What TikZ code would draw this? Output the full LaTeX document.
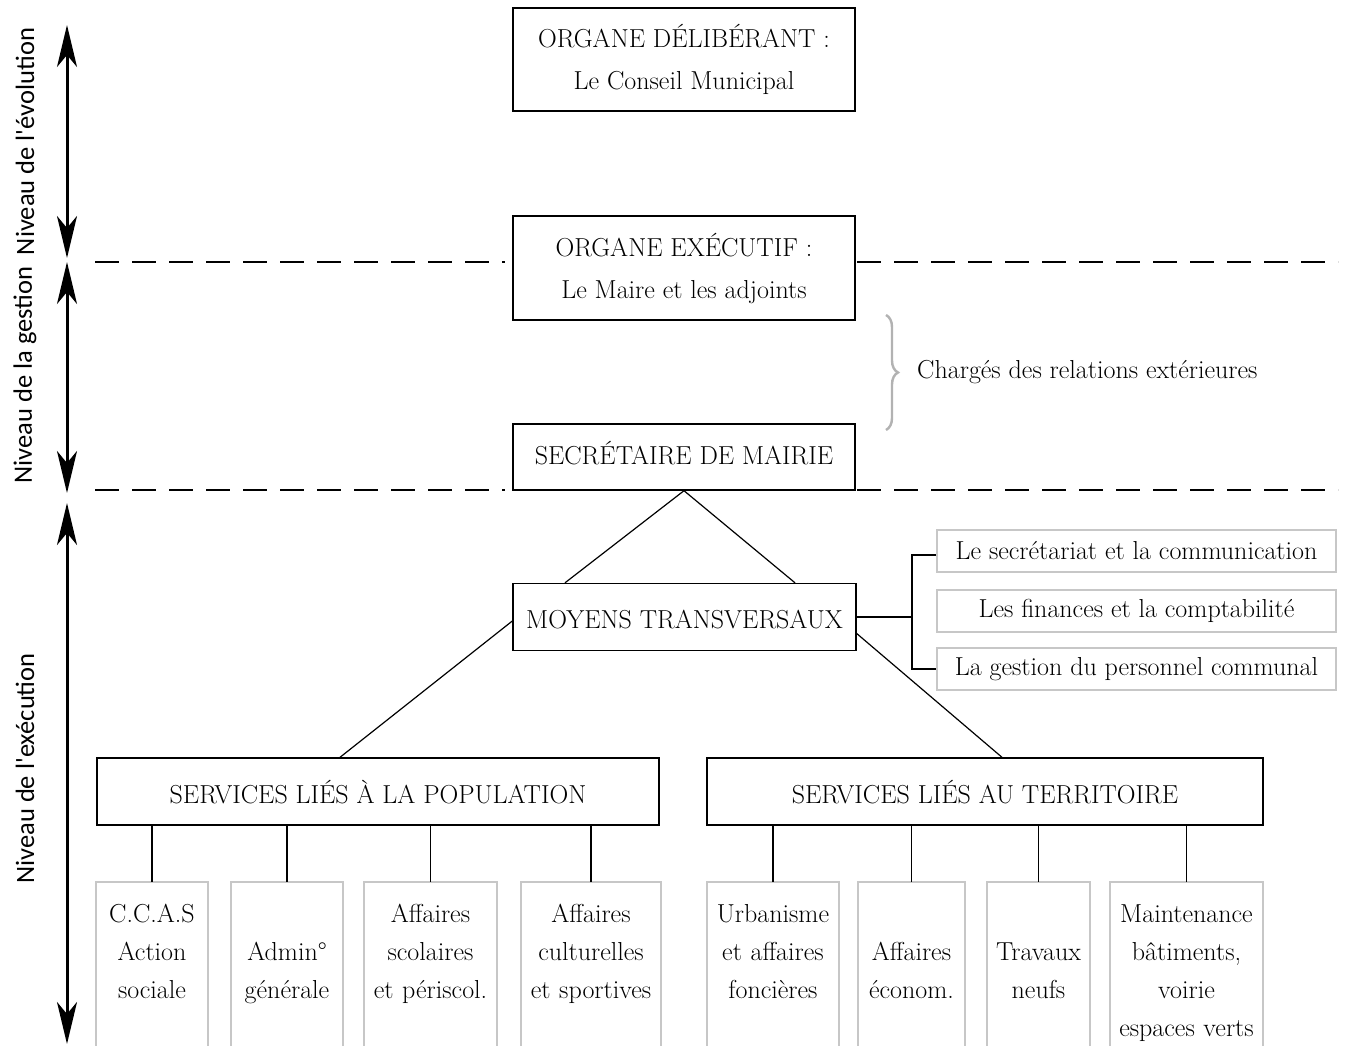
\documentclass[tikz,border=0pt]{standalone}
\usepackage{fontspec}
\newfontfamily\labfont[Ligatures=TeXOff]{Carlito}
\usetikzlibrary{arrows.meta,decorations.pathreplacing}
\begin{document}
\begin{tikzpicture}[x=1pt,y=-1pt,
  mainbox/.style={draw=black, line width=1.4pt, align=center, inner sep=0pt,
    font=\fontsize{26}{42}\selectfont},
  graybox/.style={draw=black!22, line width=1.8pt, minimum width=399pt, minimum height=42pt,
    inner sep=0pt, font=\fontsize{26}{30}\selectfont},
  subtext/.style={align=center, inner sep=0pt, anchor=north, font=\fontsize{26}{38}\selectfont},
  subframe/.style={draw=black!22, line width=1.8pt},
  conn/.style={draw=black, line width=1.2pt},
  dashline/.style={draw=black, line width=1.2pt, dash pattern=on 24pt off 13pt},
  levarrow/.style={draw=black, line width=3pt,
    arrows={Stealth[length=42pt,width=20pt,inset=12pt]-Stealth[length=42pt,width=20pt,inset=12pt]}},
  vlab/.style={rotate=90, inner sep=0pt, font=\labfont\fontsize{26.5}{30}\selectfont},
]
\useasboundingbox[fill=white] (0,0) rectangle (1345,1045);
\clip (0,0) rectangle (1345,1045);
\coordinate (bot) at (0,1070);

% main boxes
\node[mainbox, minimum width=342pt, minimum height=103pt] (delib) at (684,59.5)
  {ORGANE DÉLIBÉRANT :\\Le Conseil Municipal};
\node[mainbox, minimum width=342pt, minimum height=104pt] (exec) at (684,268)
  {ORGANE EXÉCUTIF :\\Le Maire et les adjoints};
\node[mainbox, minimum width=342pt, minimum height=66pt, text height=14pt, text depth=0pt] (secr) at (684,457)
  {SECRÉTAIRE DE MAIRIE};
\node[mainbox, minimum width=343pt, minimum height=67pt, text height=23pt, text depth=0pt] (moy) at (684.5,617)
  {MOYENS TRANSVERSAUX};
\node[mainbox, minimum width=562pt, minimum height=67pt, text height=23pt, text depth=0pt] (pop) at (378,791.5)
  {SERVICES LIÉS À LA POPULATION};
\node[mainbox, minimum width=556pt, minimum height=67pt, text height=23pt, text depth=0pt] (terr) at (985,791.5)
  {SERVICES LIÉS AU TERRITOIRE};

% level separators
\coordinate (dl1) at (95,262);
\coordinate (dr1) at (857,262);
\coordinate (dl2) at (95,490);
\coordinate (dr2) at (857,490);
\draw[dashline] (dl1) -- ++(410,0);
\draw[dashline] (dr1) -- ++(481,0);
\draw[dashline] (dl2) -- ++(410,0);
\draw[dashline] (dr2) -- ++(481,0);

% brace
\draw[draw=black!30, line width=2.4pt, decorate, decoration={brace, amplitude=12pt}]
  (886,315) -- (886,430);
\node[anchor=west, inner sep=0pt, font=\fontsize{26}{30}\selectfont] (charg) at (917,372)
  {Chargés des relations extérieures};

% connectors in the hierarchy
\draw[conn] (secr.south) -- ([xshift=-119.5pt]moy.north);
\draw[conn] (secr.south) -- ([xshift=110.5pt]moy.north);
\draw[conn] ([yshift=-4pt]moy.west) -- ([xshift=-38pt]pop.north);
\draw[conn] ([yshift=-16.5pt]moy.east) -- ([xshift=17pt]terr.north);

% transverse means
\node[graybox] (g1) at (1136.5,551) {Le secrétariat et la communication};
\node[graybox] (g2) at (1136.5,611) {Les finances et la comptabilité};
\node[graybox] (g3) at (1136.5,669) {La gestion du personnel communal};
\coordinate (j) at (912,617);
\draw[conn] (moy.east |- j) -- (j);
\draw[conn] ([yshift=-4pt]g1.west) -- ([yshift=-4pt]g1.west -| j) -- (g3.west -| j) -- (g3.west);

% sub-services
\newcommand{\Lead}{\rule{0pt}{19pt}}
\node[subtext, text width=112pt] (s1) at (152,903) {\Lead C.C.A.S\\Action\\sociale};
\node[subtext, text width=112pt] (s2) at (287,903) {\Lead\\Admin°\\générale};
\node[subtext, text width=133pt] (s3) at (430.5,903) {\Lead Affaires\\scolaires\\et périscol.};
\node[subtext, text width=140pt] (s4) at (591,903) {\Lead Affaires\\culturelles\\et sportives};
\node[subtext, text width=132pt] (s5) at (773,903) {\Lead Urbanisme\\et affaires\\foncières};
\node[subtext, text width=107pt] (s6) at (911.5,903) {\Lead\\Affaires\\économ.};
\node[subtext, text width=103pt] (s7) at (1038.5,903) {\Lead\\Travaux\\neufs};
\node[subtext, text width=153pt] (s8) at (1186.5,903) {\Lead Maintenance\\bâtiments,\\voirie\\espaces verts};
\foreach \s in {s1,s2,s3,s4,s5,s6,s7,s8}{
  \draw[subframe] ([yshift=21pt]\s.north west) rectangle (\s.east |- bot);
}
\foreach \s in {s1,s2,s3,s4}{
  \draw[conn] (\s.north |- pop.south) -- ([yshift=21pt]\s.north);
}
\foreach \s in {s5,s6,s7,s8}{
  \draw[conn] (\s.north |- terr.south) -- ([yshift=21pt]\s.north);
}

% level arrows and labels
\coordinate (a1) at (67,25);
\coordinate (a2) at (67,258);
\coordinate (a3) at (67,262);
\coordinate (a4) at (67,493);
\coordinate (a5) at (67,503);
\coordinate (a6) at (67,1044);
\draw[levarrow] (a1) -- (a2);
\draw[levarrow] (a3) -- (a4);
\draw[levarrow] (a5) -- (a6);
\node[vlab] (l1) at (25,141.5) {Niveau de l'évolution};
\node[vlab] (l2) at (25,375) {Niveau de la gestion};
\node[vlab] (l3) at (25,768.5) {Niveau de l'exécution};
\end{tikzpicture}
\end{document}
